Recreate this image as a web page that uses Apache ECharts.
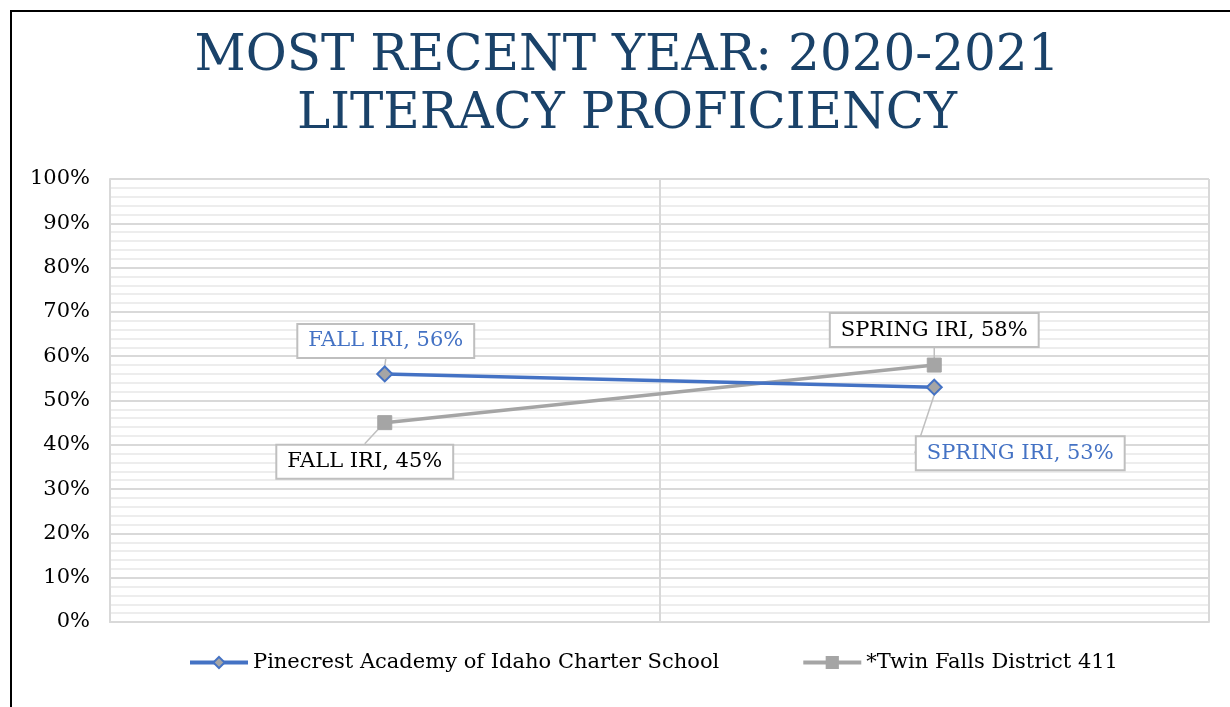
<!DOCTYPE html>
<html>
<head>
<meta charset="utf-8">
<script src="https://cdn.jsdelivr.net/npm/echarts@6/dist/echarts.min.js"></script>
<style>
html,body{margin:0;padding:0;background:#fff;}
#chart{width:1230px;height:707px;position:relative;}
#frame{position:absolute;left:10px;top:10px;width:1230px;height:707px;border-top:2px solid #000;border-left:2px solid #000;pointer-events:none;box-sizing:border-box;}
</style>
</head>
<body>
<div id="chart"></div>
<div id="frame"></div>
<script>
var titleText = 'MOST RECENT YEAR: 2020-2021\nLITERACY PROFICIENCY';
var categories = ['FALL IRI', 'SPRING IRI'];
var seriesNames = ['Pinecrest Academy of Idaho Charter School', '*Twin Falls District 411'];
var pinecrestValues = [0.56, 0.53];
var twinFallsValues = [0.45, 0.58];

// label box offsets (pixels, from each point) — layout only
var labelOffsets = [
  [[1, -33], [86, 66]],
  [[-20, 39], [0, -35]]
];

var serif = '"DejaVu Serif", "Liberation Serif", serif';
var chart = echarts.init(document.getElementById('chart'));

function labelCfg(color) {
  return {
    show: true,
    position: 'inside',
    formatter: function (p) { return p.name + ', ' + Math.round(p.value * 100) + '%'; },
    color: color,
    fontFamily: serif,
    fontSize: 21,
    backgroundColor: '#fff',
    borderColor: '#bfbfbf',
    borderWidth: 2,
    padding: [6, 10, 5, 10]
  };
}

chart.setOption({
  animation: false,
  backgroundColor: '#fff',
  title: {
    text: titleText,
    left: 622,
    textAlign: 'center',
    top: 23,
    textStyle: {
      fontFamily: serif,
      fontWeight: 'normal',
      fontSize: 50,
      lineHeight: 58,
      color: '#1a4269'
    }
  },
  grid: { left: 110, right: 21, top: 179, bottom: 85, containLabel: false },
  legend: {
    bottom: 29,
    left: 183,
    itemGap: 82,
    itemWidth: 58,
    itemHeight: 14,
    lineStyle: { width: 4 },
    textStyle: { fontFamily: serif, fontSize: 21, color: '#000' },
    data: seriesNames
  },
  xAxis: {
    type: 'category',
    data: categories,
    boundaryGap: true,
    axisLine: { show: true, lineStyle: { color: '#d9d9d9', width: 2 } },
    axisTick: { show: false },
    axisLabel: { show: false },
    splitLine: { show: true, lineStyle: { color: '#d9d9d9', width: 2 } }
  },
  yAxis: {
    type: 'value',
    min: 0,
    max: 1,
    interval: 0.1,
    axisLine: { show: true, lineStyle: { color: '#d9d9d9', width: 2 } },
    axisTick: { show: false },
    axisLabel: {
      formatter: function (v) { return Math.round(v * 100) + '%'; },
      fontFamily: serif,
      fontSize: 21,
      color: '#000',
      margin: 20
    },
    splitLine: { show: true, lineStyle: { color: '#d9d9d9', width: 2 } },
    minorTick: { show: false, splitNumber: 5 },
    minorSplitLine: { show: true, lineStyle: { color: '#ededed', width: 2 } }
  },
  series: [
    {
      name: seriesNames[0],
      type: 'line',
      data: pinecrestValues,
      symbol: 'diamond',
      symbolSize: 15,
      lineStyle: { color: '#4472c4', width: 3.5 },
      itemStyle: { color: '#a5a5a5', borderColor: '#4472c4', borderWidth: 2 },
      label: labelCfg('#4472c4'),
      labelLine: { show: true, lineStyle: { color: '#bfbfbf', width: 1.5 } },
      labelLayout: function (p) {
        var o = labelOffsets[0][p.dataIndex];
        return { dx: o[0], dy: o[1] };
      },
      z: 3
    },
    {
      name: seriesNames[1],
      type: 'line',
      data: twinFallsValues,
      symbol: 'rect',
      symbolSize: 14,
      lineStyle: { color: '#a5a5a5', width: 3.5 },
      itemStyle: { color: '#a5a5a5', borderColor: '#a5a5a5', borderWidth: 1 },
      label: labelCfg('#000'),
      labelLine: { show: true, lineStyle: { color: '#bfbfbf', width: 1.5 } },
      labelLayout: function (p) {
        var o = labelOffsets[1][p.dataIndex];
        return { dx: o[0], dy: o[1] };
      },
      z: 2
    }
  ]
});
</script>
</body>
</html>
